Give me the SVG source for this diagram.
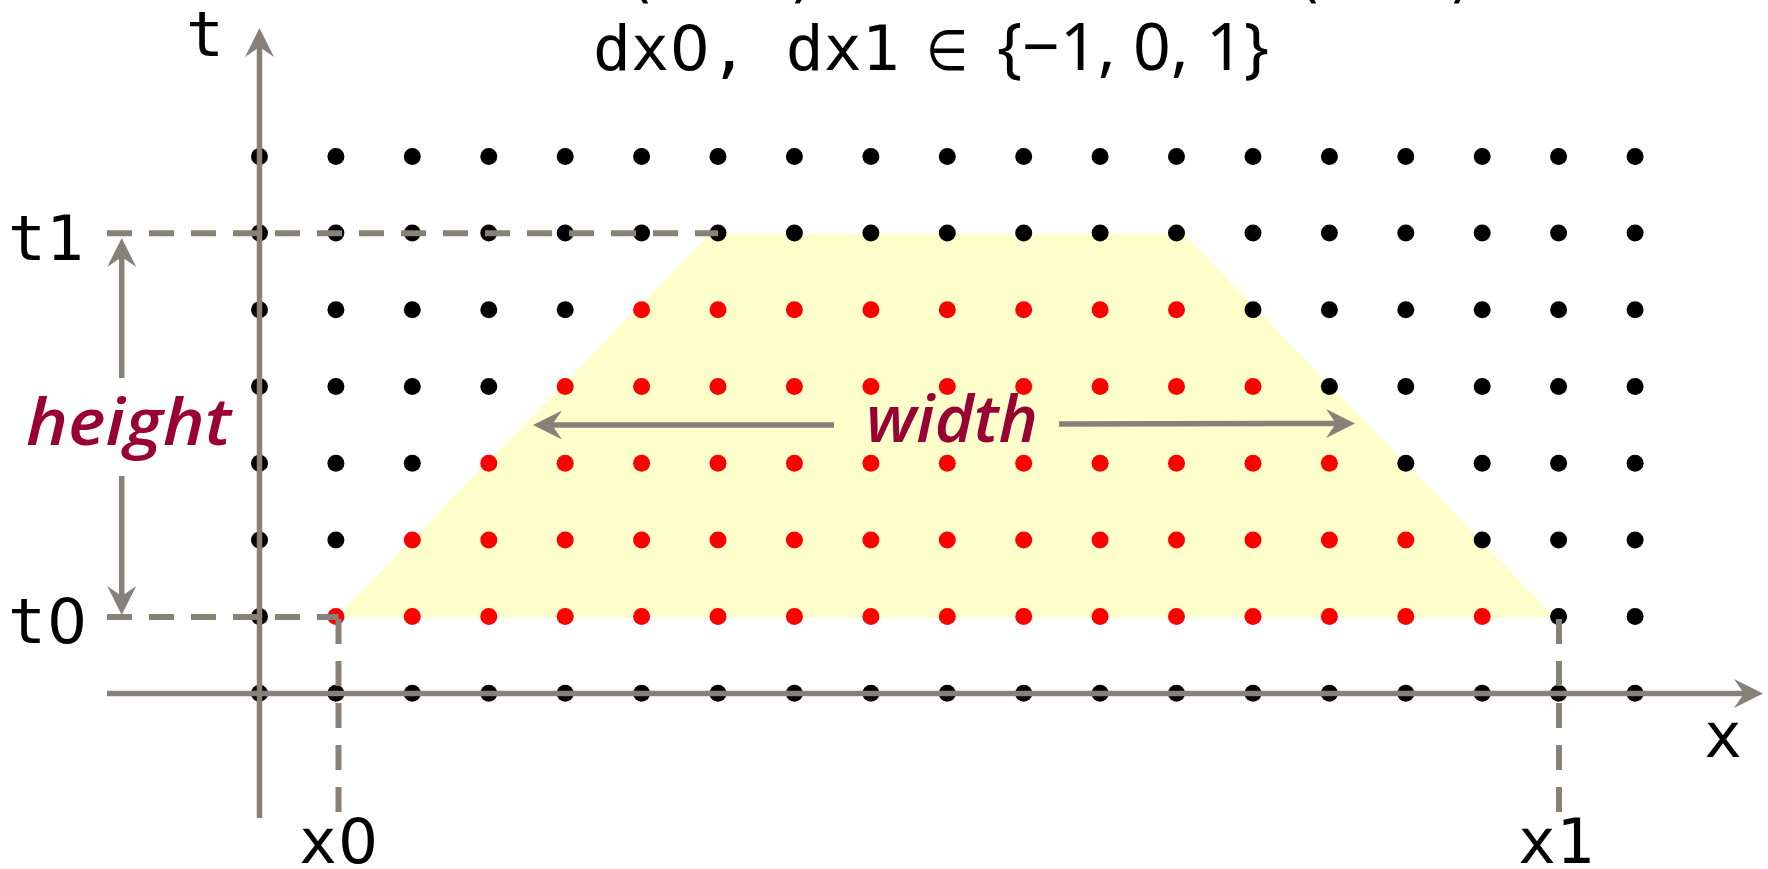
<svg xmlns="http://www.w3.org/2000/svg" width="1768" height="869" viewBox="0 0 1768 869">
<defs>
<style>
.k{fill:#000}
.r{fill:#ff0000}
.ln{fill:none;stroke:#86827a;stroke-width:5.5}
.ds{fill:none;stroke:#86827a;stroke-width:6;stroke-dasharray:25 17}
.mono{font-family:"DejaVu Sans Mono","Liberation Mono",monospace;font-size:63px;fill:#000}
.z{font-family:"DejaVu Sans",sans-serif}
.lbl{font-family:"Open Sans","DejaVu Sans",sans-serif;font-style:italic;font-weight:600;font-size:66px;fill:#990033}
.sans{font-family:"Noto Sans","Open Sans",sans-serif;font-size:66px;fill:#000}
</style>
<marker id="ah" viewBox="0 0 29 29" refX="10" refY="14.5" markerWidth="29" markerHeight="29" markerUnits="userSpaceOnUse" orient="auto">
<path d="M0,0 L29,14.5 L0,29 L10,14.5 Z" fill="#86827a"/>
</marker>
</defs>
<rect width="1768" height="869" fill="#fff"/>
<g id="region"><polygon points="336,617.5 710,234 1184,234 1555,617.5" fill="#ffffcc"/></g>
<g id="grid">
<g class="k">
<circle cx="259.5" cy="156.4" r="8.5"/><circle cx="335.9" cy="156.4" r="8.5"/><circle cx="412.3" cy="156.4" r="8.5"/><circle cx="488.8" cy="156.4" r="8.5"/><circle cx="565.2" cy="156.4" r="8.5"/><circle cx="641.6" cy="156.4" r="8.5"/><circle cx="718" cy="156.4" r="8.5"/><circle cx="794.4" cy="156.4" r="8.5"/><circle cx="870.9" cy="156.4" r="8.5"/><circle cx="947.3" cy="156.4" r="8.5"/><circle cx="1023.7" cy="156.4" r="8.5"/><circle cx="1100.1" cy="156.4" r="8.5"/><circle cx="1176.5" cy="156.4" r="8.5"/><circle cx="1253" cy="156.4" r="8.5"/><circle cx="1329.4" cy="156.4" r="8.5"/><circle cx="1405.8" cy="156.4" r="8.5"/><circle cx="1482.2" cy="156.4" r="8.5"/><circle cx="1558.6" cy="156.4" r="8.5"/><circle cx="1635.1" cy="156.4" r="8.5"/>
<circle cx="259.5" cy="233.1" r="8.5"/><circle cx="335.9" cy="233.1" r="8.5"/><circle cx="412.3" cy="233.1" r="8.5"/><circle cx="488.8" cy="233.1" r="8.5"/><circle cx="565.2" cy="233.1" r="8.5"/><circle cx="641.6" cy="233.1" r="8.5"/><circle cx="718" cy="233.1" r="8.5"/><circle cx="794.4" cy="233.1" r="8.5"/><circle cx="870.9" cy="233.1" r="8.5"/><circle cx="947.3" cy="233.1" r="8.5"/><circle cx="1023.7" cy="233.1" r="8.5"/><circle cx="1100.1" cy="233.1" r="8.5"/><circle cx="1176.5" cy="233.1" r="8.5"/><circle cx="1253" cy="233.1" r="8.5"/><circle cx="1329.4" cy="233.1" r="8.5"/><circle cx="1405.8" cy="233.1" r="8.5"/><circle cx="1482.2" cy="233.1" r="8.5"/><circle cx="1558.6" cy="233.1" r="8.5"/><circle cx="1635.1" cy="233.1" r="8.5"/>
<circle cx="259.5" cy="309.8" r="8.5"/><circle cx="335.9" cy="309.8" r="8.5"/><circle cx="412.3" cy="309.8" r="8.5"/><circle cx="488.8" cy="309.8" r="8.5"/><circle cx="565.2" cy="309.8" r="8.5"/><circle cx="1253" cy="309.8" r="8.5"/><circle cx="1329.4" cy="309.8" r="8.5"/><circle cx="1405.8" cy="309.8" r="8.5"/><circle cx="1482.2" cy="309.8" r="8.5"/><circle cx="1558.6" cy="309.8" r="8.5"/><circle cx="1635.1" cy="309.8" r="8.5"/>
<circle cx="259.5" cy="386.5" r="8.5"/><circle cx="335.9" cy="386.5" r="8.5"/><circle cx="412.3" cy="386.5" r="8.5"/><circle cx="488.8" cy="386.5" r="8.5"/><circle cx="1329.4" cy="386.5" r="8.5"/><circle cx="1405.8" cy="386.5" r="8.5"/><circle cx="1482.2" cy="386.5" r="8.5"/><circle cx="1558.6" cy="386.5" r="8.5"/><circle cx="1635.1" cy="386.5" r="8.5"/>
<circle cx="259.5" cy="463.2" r="8.5"/><circle cx="335.9" cy="463.2" r="8.5"/><circle cx="412.3" cy="463.2" r="8.5"/><circle cx="1405.8" cy="463.2" r="8.5"/><circle cx="1482.2" cy="463.2" r="8.5"/><circle cx="1558.6" cy="463.2" r="8.5"/><circle cx="1635.1" cy="463.2" r="8.5"/>
<circle cx="259.5" cy="539.9" r="8.5"/><circle cx="335.9" cy="539.9" r="8.5"/><circle cx="1482.2" cy="539.9" r="8.5"/><circle cx="1558.6" cy="539.9" r="8.5"/><circle cx="1635.1" cy="539.9" r="8.5"/>
<circle cx="259.5" cy="616.6" r="8.5"/><circle cx="1558.6" cy="616.6" r="8.5"/><circle cx="1635.1" cy="616.6" r="8.5"/>
<circle cx="259.5" cy="693.3" r="8.5"/><circle cx="335.9" cy="693.3" r="8.5"/><circle cx="412.3" cy="693.3" r="8.5"/><circle cx="488.8" cy="693.3" r="8.5"/><circle cx="565.2" cy="693.3" r="8.5"/><circle cx="641.6" cy="693.3" r="8.5"/><circle cx="718" cy="693.3" r="8.5"/><circle cx="794.4" cy="693.3" r="8.5"/><circle cx="870.9" cy="693.3" r="8.5"/><circle cx="947.3" cy="693.3" r="8.5"/><circle cx="1023.7" cy="693.3" r="8.5"/><circle cx="1100.1" cy="693.3" r="8.5"/><circle cx="1176.5" cy="693.3" r="8.5"/><circle cx="1253" cy="693.3" r="8.5"/><circle cx="1329.4" cy="693.3" r="8.5"/><circle cx="1405.8" cy="693.3" r="8.5"/><circle cx="1482.2" cy="693.3" r="8.5"/><circle cx="1558.6" cy="693.3" r="8.5"/><circle cx="1635.1" cy="693.3" r="8.5"/>
</g>
<g class="r">
<circle cx="641.6" cy="309.8" r="8.5"/><circle cx="718" cy="309.8" r="8.5"/><circle cx="794.4" cy="309.8" r="8.5"/><circle cx="870.9" cy="309.8" r="8.5"/><circle cx="947.3" cy="309.8" r="8.5"/><circle cx="1023.7" cy="309.8" r="8.5"/><circle cx="1100.1" cy="309.8" r="8.5"/><circle cx="1176.5" cy="309.8" r="8.5"/>
<circle cx="565.2" cy="386.5" r="8.5"/><circle cx="641.6" cy="386.5" r="8.5"/><circle cx="718" cy="386.5" r="8.5"/><circle cx="794.4" cy="386.5" r="8.5"/><circle cx="870.9" cy="386.5" r="8.5"/><circle cx="947.3" cy="386.5" r="8.5"/><circle cx="1023.7" cy="386.5" r="8.5"/><circle cx="1100.1" cy="386.5" r="8.5"/><circle cx="1176.5" cy="386.5" r="8.5"/><circle cx="1253" cy="386.5" r="8.5"/>
<circle cx="488.8" cy="463.2" r="8.5"/><circle cx="565.2" cy="463.2" r="8.5"/><circle cx="641.6" cy="463.2" r="8.5"/><circle cx="718" cy="463.2" r="8.5"/><circle cx="794.4" cy="463.2" r="8.5"/><circle cx="870.9" cy="463.2" r="8.5"/><circle cx="947.3" cy="463.2" r="8.5"/><circle cx="1023.7" cy="463.2" r="8.5"/><circle cx="1100.1" cy="463.2" r="8.5"/><circle cx="1176.5" cy="463.2" r="8.5"/><circle cx="1253" cy="463.2" r="8.5"/><circle cx="1329.4" cy="463.2" r="8.5"/>
<circle cx="412.3" cy="539.9" r="8.5"/><circle cx="488.8" cy="539.9" r="8.5"/><circle cx="565.2" cy="539.9" r="8.5"/><circle cx="641.6" cy="539.9" r="8.5"/><circle cx="718" cy="539.9" r="8.5"/><circle cx="794.4" cy="539.9" r="8.5"/><circle cx="870.9" cy="539.9" r="8.5"/><circle cx="947.3" cy="539.9" r="8.5"/><circle cx="1023.7" cy="539.9" r="8.5"/><circle cx="1100.1" cy="539.9" r="8.5"/><circle cx="1176.5" cy="539.9" r="8.5"/><circle cx="1253" cy="539.9" r="8.5"/><circle cx="1329.4" cy="539.9" r="8.5"/><circle cx="1405.8" cy="539.9" r="8.5"/>
<circle cx="335.9" cy="616.6" r="8.5"/><circle cx="412.3" cy="616.6" r="8.5"/><circle cx="488.8" cy="616.6" r="8.5"/><circle cx="565.2" cy="616.6" r="8.5"/><circle cx="641.6" cy="616.6" r="8.5"/><circle cx="718" cy="616.6" r="8.5"/><circle cx="794.4" cy="616.6" r="8.5"/><circle cx="870.9" cy="616.6" r="8.5"/><circle cx="947.3" cy="616.6" r="8.5"/><circle cx="1023.7" cy="616.6" r="8.5"/><circle cx="1100.1" cy="616.6" r="8.5"/><circle cx="1176.5" cy="616.6" r="8.5"/><circle cx="1253" cy="616.6" r="8.5"/><circle cx="1329.4" cy="616.6" r="8.5"/><circle cx="1405.8" cy="616.6" r="8.5"/><circle cx="1482.2" cy="616.6" r="8.5"/>
</g>
</g>
<g id="connectors">
<path class="ds" d="M107,233.3 H718"/>
<path class="ds" d="M107,617 H338.5"/>
<path class="ds" d="M338.5,619 V814"/>
<path class="ds" d="M1559,619 V814"/>
<path class="ln" d="M259.5,818 V47" marker-end="url(#ah)"/>
<path class="ln" d="M107,693.5 H1744" marker-end="url(#ah)"/>
<path class="ln" d="M121.7,378 V257" marker-end="url(#ah)"/>
<path class="ln" d="M121.7,476 V596" marker-end="url(#ah)"/>
<path class="ln" d="M834,425 H552" marker-end="url(#ah)"/>
<path class="ln" d="M1059,424 L1336,423.5" marker-end="url(#ah)"/>
</g>
<g id="labels">
<text class="mono" x="186" y="56">t</text>
<text class="mono" x="8" y="260">t1</text>
<text class="mono" x="8" y="643">t<tspan class="z" dx="1">0</tspan></text>
<text class="mono" x="299" y="863">x<tspan class="z" dx="1">0</tspan></text>
<text class="mono" x="1518" y="863">x1</text>
<text class="mono" x="1704" y="757">x</text>
<text class="lbl" x="26" y="445" textLength="205" lengthAdjust="spacingAndGlyphs">height</text>
<text class="lbl" x="866" y="442" textLength="172" lengthAdjust="spacingAndGlyphs">width</text>
</g>
<g id="title">
<text class="mono" x="593" y="70">dx<tspan class="z" dx="1">0</tspan>, dx1</text>
<text x="926" y="70" font-family="DejaVu Sans, sans-serif" font-size="56" textLength="42" lengthAdjust="spacingAndGlyphs">∈</text>
<text class="sans" x="997" y="70" textLength="272" lengthAdjust="spacing">{−1, 0, 1}</text>
<g class="mono" text-anchor="middle"><text x="640" y="-5">(</text><text x="803" y="-5">)</text><text x="1308" y="-5">(</text><text x="1462" y="-5">)</text></g>
</g>
</svg>
